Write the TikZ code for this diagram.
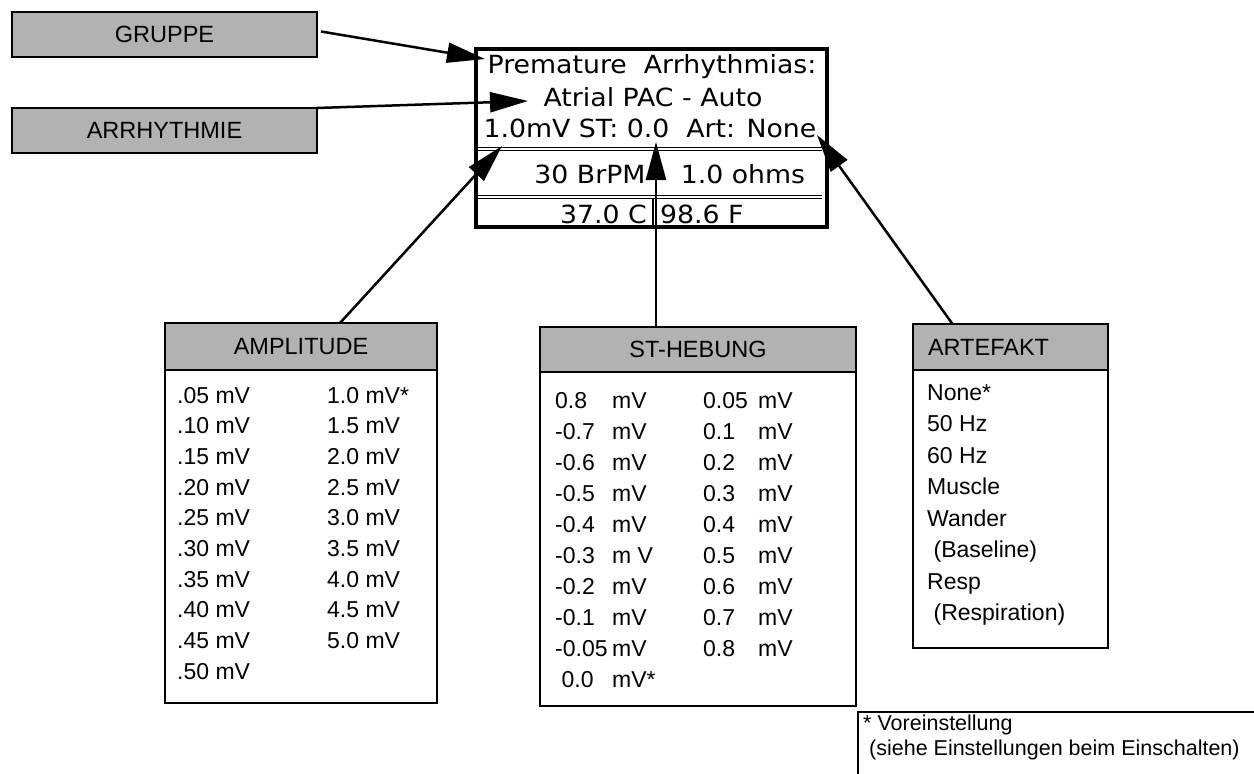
\documentclass[tikz,border=0pt]{standalone}
\usepackage{fontspec}
\setmainfont{Liberation Sans}
\newfontfamily\lcdfont[FakeStretch=1.07]{DejaVu Sans}
\usetikzlibrary{arrows.meta,positioning,calc}

\begin{document}
\begin{tikzpicture}[x=1pt, y=-1pt,
    labelbox/.style={rectangle, draw=black, line width=2.5pt, fill=black!30,
      inner sep=0pt, outer sep=0pt, font=\fontsize{23.5}{28}\selectfont},
    listbox/.style={rectangle, draw=black, line width=2.5pt, fill=white,
      inner sep=0pt, outer sep=0pt},
    item/.style={anchor=base west, inner sep=0pt, font=\fontsize{23}{28}\selectfont},
    lcd/.style={inner sep=0pt, font=\lcdfont\fontsize{25}{30}\selectfont},
    pointer/.style={line width=2.5pt, -{Triangle[length=38pt, width=20pt]}}
  ]
  \useasboundingbox (0,0) rectangle (1254,774);

  % labels on the left
  \node[labelbox, anchor=north west, minimum width=305, minimum height=45] (gruppe) at (12,12) {GRUPPE};
  \node[labelbox, anchor=north west, minimum width=305, minimum height=45] (arrh) at (12,108) {ARRHYTHMIE};

  % monitor screen
  \node[draw=black, line width=3.5pt, anchor=north west, minimum width=351, minimum height=178,
    inner sep=0pt, outer sep=0pt] (screen) at (476,49) {};
  \node[lcd] (prem) at (652,67) {Premature\ \ Arrhythmias:};
  \node[lcd] (atrial) at (653,97) {Atrial PAC - Auto};
  \node[lcd] (status) at (650,128) {1.0mV ST: 0.0\ \ Art: None};
  \node[lcd] (brpm) at (590,174) {30 BrPM};
  \node[lcd] (ohms) at (743,174) {1.0 ohms};
  \node[lcd, anchor=east] (celsius) at (647,214) {37.0 C};
  \node[lcd, anchor=west] (fahr) at (660,214) {98.6 F};
  \draw[line width=1pt] (478,147.5) -- (822,147.5) (478,150.5) -- (822,150.5);
  \draw[line width=1pt] (478,195.5) -- (822,195.5) (478,198.5) -- (822,198.5);
  \draw[line width=2pt] (653,199) -- (653,227);

  % AMPLITUDE
  \node[labelbox, anchor=north west, minimum width=272, minimum height=47] (ampHead) at (165,323) {AMPLITUDE};
  \node[listbox, below=0pt of ampHead, minimum width=272, minimum height=333] (ampBody) {};
  \foreach \v [count=\i] in {.05,.10,.15,.20,.25,.30,.35,.40,.45,.50}
    \node[item] (ampL\i) at (177,{403+30.7*(\i-1)}) {\v\ mV};
  \foreach \v [count=\i] in {1.0 mV*,1.5 mV,2.0 mV,2.5 mV,3.0 mV,3.5 mV,4.0 mV,4.5 mV,5.0 mV}
    \node[item] (ampR\i) at (327,{403+30.7*(\i-1)}) {\v};

  % ST-HEBUNG
  \node[labelbox, anchor=north west, minimum width=316, minimum height=45] (stHead) at (540,327) {ST-HEBUNG};
  \node[listbox, below=0pt of stHead, minimum width=316, minimum height=334] (stBody) {};
  \foreach \n/\u [count=\i] in {0.8/mV,-0.7/mV,-0.6/mV,-0.5/mV,-0.4/mV,-0.3/m V,-0.2/mV,-0.1/mV,-0.05/mV,\ 0.0/mV*}
    \node[item] (stL\i) at (555,{408+31*(\i-1)}) {\makebox[57pt][l]{\n}\u};
  \foreach \n [count=\i] in {0.05,0.1,0.2,0.3,0.4,0.5,0.6,0.7,0.8}
    \node[item] (stR\i) at (703,{408+31*(\i-1)}) {\makebox[55pt][l]{\n}mV};

  % ARTEFAKT
  \node[labelbox, anchor=north west, text width=165pt, align=left, inner xsep=15pt,
    minimum height=46] (artHead) at (913,324) {ARTEFAKT};
  \node[listbox, below=0pt of artHead, minimum width=195, minimum height=278] (artBody) {};
  \foreach \v [count=\i] in {None*,50 Hz,60 Hz,Muscle,Wander,\ (Baseline),Resp,\ (Respiration)}
    \node[item] (art\i) at (927,{400+31.5*(\i-1)}) {\v};

  % footnote
  \coordinate (noteTR) at (1254,712);
  \coordinate (noteBL) at (858,774);
  \draw[line width=2.5pt] (noteTR) -- (noteTR -| noteBL) -- (noteBL);
  \node[item, font=\fontsize{21.5}{24}\selectfont] (noteA) at (863,730) {* Voreinstellung};
  \node[item, font=\fontsize{21.5}{24}\selectfont] (noteB) at (863,755) {\ (siehe Einstellungen beim Einschalten)};

  % pointers
  \coordinate (tipGruppe) at (485,59);
  \coordinate (tipArrh) at (528,101);
  \coordinate (tipAmp) at (502,146);
  \coordinate (tipSt) at (656,142);
  \coordinate (tipArt) at (817,135);
  \draw[pointer] ([xshift=4pt,yshift=3pt]gruppe.east) -- (tipGruppe);
  \draw[pointer] (arrh.north east) -- (tipArrh);
  \draw[pointer] ([xshift=39pt]ampHead.north) -- (tipAmp);
  \draw[pointer] ([xshift=-42pt]stHead.north) -- (tipSt);
  \draw[pointer] ([xshift=-58pt]artHead.north) -- (tipArt);
\end{tikzpicture}
\end{document}
